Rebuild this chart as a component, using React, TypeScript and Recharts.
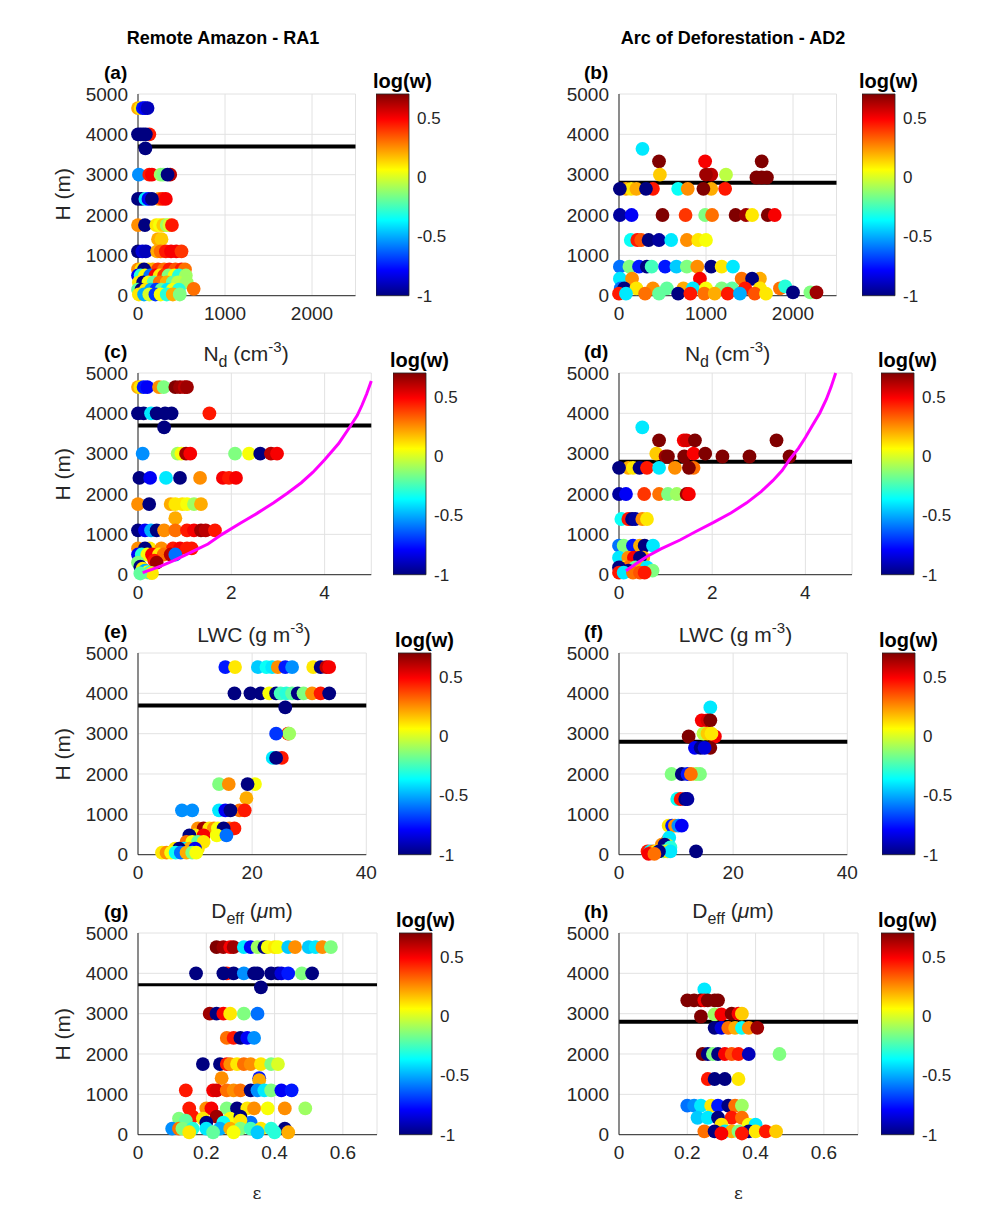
import React from "react";
import {
  ScatterChart,
  Scatter,
  BarChart,
  Bar,
  XAxis,
  YAxis,
  CartesianGrid,
  ReferenceLine,
  Cell,
} from "recharts";

// [x, H (m), log(w)]
type Pt = [number, number, number];

const hTicks = [0, 1000, 2000, 3000, 4000, 5000];
const ndTicks = [0, 1000, 2000];
const lwcTicks = [0, 2, 4];
const deffTicks = [0, 20, 40];
const epsTicks = [0, 0.2, 0.4, 0.6];
const cbTicks = [-1, -0.5, 0, 0.5];

const cloudTopRA1 = 3700;
const cloudTopAD2 = 2800;

// adiabatic LWC profiles [LWC, H]
const lwcAdRA1: [number, number][] = [
  [0.1, 50], [0.3, 130], [0.5, 220], [0.75, 340], [1.0, 480], [1.25, 620], [1.5, 760], [1.8, 1000],
  [2.2, 1280], [2.55, 1520], [2.9, 1780], [3.2, 2020], [3.5, 2280], [3.75, 2540], [4.0, 2850],
  [4.3, 3250], [4.55, 3680], [4.7, 3950], [4.8, 4200], [4.9, 4480], [5.0, 4800],
];
const lwcAdAD2: [number, number][] = [
  [0.15, 100], [0.35, 260], [0.6, 450], [0.9, 640], [1.31, 860], [1.65, 1070], [2.02, 1290],
  [2.4, 1530], [2.74, 1780], [3.05, 2060], [3.3, 2330], [3.5, 2580], [3.66, 2850], [3.85, 3130],
  [4.0, 3400], [4.15, 3700], [4.31, 4010], [4.45, 4350], [4.55, 4650], [4.65, 5000],
];

const ndRA1: Pt[] = [
  [0, 4650, 0.2], [30, 4650, 0.1], [55, 4650, -0.75], [80, 4650, -0.8], [110, 4650, -0.9],
  [130, 4000, 0.45], [0, 4000, -1], [30, 4000, -1], [60, 4000, -1], [90, 4000, -1],
  [85, 3650, -1],
  [10, 3000, -0.55], [130, 3000, 0.45], [160, 3000, 0.5], [260, 3000, -0.1], [290, 3000, -0.15], [370, 3000, 0.6], [340, 3000, -1],
  [0, 2400, -1], [40, 2400, -1], [85, 2400, -0.4], [120, 2400, -0.8], [240, 2400, 0.25], [280, 2400, 0.45], [320, 2400, 0.5], [160, 2400, -1],
  [0, 1750, 0.25], [80, 1750, -1], [210, 1750, 0.1], [250, 1750, 0.05], [290, 1750, 0.15], [330, 1750, -0.1], [360, 1750, 0.0], [390, 1750, 0.45],
  [230, 1400, 0.2], [270, 1400, 0.15],
  [0, 1100, -1], [50, 1100, -0.85], [90, 1100, -0.9], [220, 1100, 0.2], [260, 1100, 0.3], [320, 1100, 0.45], [380, 1100, 0.5], [440, 1100, 0.5], [500, 1100, 0.4],
  [0, 650, 0.25], [40, 650, 0.1], [120, 650, 0.1], [170, 650, 0.2], [230, 650, 0.4], [300, 650, 0.3], [360, 650, 0.45], [430, 650, 0.35], [500, 650, 0.45], [540, 650, 0.3], [70, 650, -1],
  [0, 500, -0.8], [30, 500, -0.3], [80, 500, 0.05], [140, 500, -0.6], [200, 500, 0.5], [250, 500, 0.1], [300, 500, 0.4], [350, 500, -0.15], [420, 500, 0.05], [470, 500, -0.3], [550, 500, -0.1],
  [10, 330, 0.1], [60, 330, -1], [120, 330, 0.05], [180, 330, -0.2], [250, 330, 0.3], [330, 330, 0.2], [400, 330, -0.2], [460, 330, -0.05], [560, 330, -0.1],
  [0, 150, -0.2], [40, 150, -1], [90, 150, 0.1], [150, 150, -0.5], [210, 150, -0.7], [270, 150, -0.2], [340, 150, -0.4], [400, 150, 0.05], [470, 150, -0.3], [640, 170, 0.3],
  [10, 30, 0.1], [70, 30, -0.5], [130, 30, 0.0], [200, 30, -0.7], [260, 30, 0.05], [330, 30, -0.3], [400, 30, 0.2], [480, 30, -0.15],
];

const ndAD2: Pt[] = [
  [270, 3640, -0.4],
  [460, 3330, 0.7], [990, 3330, 0.5], [1640, 3330, 0.7],
  [470, 3000, 0.15], [1060, 3000, 0.6], [1000, 3000, 0.65], [1230, 3000, -0.05], [1580, 2930, 0.7], [1640, 2930, 0.7], [1700, 2930, 0.7],
  [80, 2650, 0.2], [140, 2650, 0.1], [200, 2650, 0.2], [10, 2650, -1], [390, 2650, 0.45], [310, 2650, -1], [680, 2650, -0.35], [790, 2650, 0.25], [1060, 2650, 0.2], [970, 2650, 0.7], [1220, 2650, 0.45],
  [10, 2000, -0.95], [145, 2000, -0.8], [500, 2000, 0.7], [765, 2000, 0.4], [990, 2000, -0.15], [1070, 2000, 0.3], [1340, 2000, 0.7], [1460, 2000, 0.65], [1530, 2000, 0.1], [1710, 2000, 0.7], [1790, 2000, 0.5],
  [135, 1380, -0.35], [210, 1380, 0.45], [255, 1380, 0.35], [340, 1380, -1], [460, 1380, -0.95], [600, 1380, -0.4], [780, 1380, 0.25], [910, 1380, 0.1], [1000, 1380, 0.05],
  [10, 720, -0.6], [120, 720, -0.15], [230, 720, -0.75], [320, 720, -1], [375, 720, -0.25], [530, 720, -0.75], [660, 720, -0.45], [780, 720, -0.15], [900, 720, 0.25], [1060, 720, -1], [1180, 720, 0.1], [1310, 720, -0.4],
  [10, 420, -0.4], [150, 420, 0.25], [930, 420, 0.5], [1410, 420, 0.3], [1620, 420, 0.2], [1530, 420, -1],
  [20, 180, -0.6], [60, 180, -1], [200, 180, 0.1], [390, 180, 0.25], [550, 180, -0.2], [740, 180, 0.2], [850, 180, -0.4], [1000, 180, 0.05], [1180, 180, -0.15], [1300, 180, -0.2], [1450, 180, 0.45], [1620, 180, 0.1], [1850, 180, 0.3], [1910, 230, -0.3],
  [0, 50, 0.45], [80, 50, -0.4], [300, 50, 0.3], [460, 50, -0.2], [680, 50, -1], [820, 50, 0.45], [980, 50, 0.3], [1100, 50, 0.2], [1250, 50, 0.45], [1390, 50, -0.5], [1560, 50, 0.35], [1690, 50, 0.1],
  [2000, 80, -1], [2200, 80, -0.15], [2270, 80, 0.65],
];

const lwcRA1: Pt[] = [
  [0.0, 4650, 0.2], [0.05, 4650, 0.1], [0.12, 4650, -0.75], [0.2, 4650, -0.8], [0.45, 4650, 0.25], [0.55, 4650, -0.15], [0.8, 4650, 0.7], [0.9, 4650, 0.65], [1.0, 4650, 0.6], [1.05, 4650, 0.65],
  [0, 4000, -1], [0.12, 4000, -1], [0.28, 4000, -0.4], [0.4, 4000, -1], [0.58, 4000, -1], [0.72, 4000, -1], [1.53, 4000, 0.45],
  [0.56, 3650, -1],
  [0.1, 3000, -0.55], [0.85, 3000, -0.1], [0.93, 3000, 0.05], [1.03, 3000, 0.65], [1.12, 3000, 0.5], [2.08, 3000, -0.15], [2.38, 3000, 0.05], [2.62, 3000, -1], [2.85, 3000, 0.6], [2.98, 3000, 0.5],
  [0.03, 2400, -1], [0.26, 2400, -0.8], [0.6, 2400, -0.4], [0.9, 2400, -1], [1.33, 2400, 0.25], [1.82, 2400, 0.5], [1.95, 2400, 0.45], [2.1, 2400, 0.5],
  [0.0, 1750, 0.25], [0.24, 1750, -1], [0.7, 1750, 0.2], [0.8, 1750, 0.1], [0.95, 1750, 0.1], [1.05, 1750, 0.05], [1.2, 1750, -0.1], [1.35, 1750, 0.2],
  [0.8, 1400, 0.2],
  [0, 1100, -1], [0.15, 1100, -0.8], [0.28, 1100, -0.5], [0.4, 1100, -1], [0.56, 1100, 0.25], [0.8, 1100, 0.3], [1.05, 1100, 0.45], [1.2, 1100, 0.5], [1.35, 1100, 0.65], [1.45, 1100, 0.6], [1.65, 1100, 0.45],
  [0, 650, 0.25], [0.25, 650, 0.1], [0.5, 650, 0.25], [0.75, 650, 0.45], [0.9, 650, 0.5], [1.05, 650, 0.45], [1.15, 650, 0.45], [0.15, 650, -1],
  [0, 500, -0.8], [0.08, 500, -0.3], [0.2, 500, 0.05], [0.3, 500, 0.5], [0.45, 500, 0.1], [0.55, 500, 0.3], [0.7, 500, 0.6], [0.8, 500, -0.6],
  [0, 300, -0.15], [0.35, 350, 0.45], [0.4, 300, 0.65], [0.05, 200, -1], [0.1, 150, 0.1], [0.15, 100, -0.5], [0.2, 60, 0.05], [0.25, 50, -0.3], [0.3, 40, 0.1], [0.05, 30, -0.2],
];

const lwcAD2: Pt[] = [
  [0.5, 3650, -0.4],
  [0.86, 3330, 0.7], [1.39, 3330, 0.5], [1.45, 3330, 0.55], [1.63, 3330, 0.7], [3.38, 3330, 0.7],
  [0.8, 3000, 0.15], [1.0, 2930, 0.65], [1.05, 2930, 0.7], [1.4, 2930, 0.7], [1.6, 3000, 0.5], [1.85, 3000, 0.7], [2.22, 2930, 0.7], [2.8, 2930, 0.7], [3.66, 2930, 0.7],
  [0.2, 2650, 0.2], [0.3, 2650, 0.1], [0.0, 2650, -1], [0.44, 2650, -1], [0.6, 2650, 0.45], [0.86, 2650, -0.4], [1.2, 2650, 0.25], [1.6, 2650, 0.3], [1.5, 2650, 0.7],
  [0.0, 2000, -0.95], [0.15, 2000, -0.8], [0.54, 2000, 0.4], [0.86, 2000, 0.3], [1.05, 2000, -0.15], [1.24, 2000, -0.1], [1.45, 2000, 0.65], [1.5, 2000, 0.5],
  [0.05, 1380, -0.35], [0.2, 1380, 0.45], [0.28, 1380, -1], [0.35, 1380, -0.95], [0.5, 1380, 0.25], [0.6, 1380, 0.1],
  [0.0, 720, -0.6], [0.1, 720, -0.15], [0.3, 720, -0.75], [0.45, 720, 0.2], [0.55, 720, -1], [0.73, 720, -0.4],
  [0.0, 420, -0.4], [0.2, 420, 0.25], [0.32, 420, 0.5], [0.52, 420, 0.2], [0.45, 420, -1],
  [0.05, 180, -0.6], [0.1, 180, 0.1], [0.2, 180, 0.3], [0.35, 180, -0.2], [0.5, 180, 0.2], [0.6, 180, -0.4], [0.72, 100, -0.15], [0.0, 180, -1], [0.2, 100, -1],
  [0.0, 50, 0.45], [0.1, 50, -0.4], [0.3, 50, 0.3], [0.45, 50, 0.35], [0.55, 50, 0.45],
];

const deffRA1: Pt[] = [
  [15.3, 4650, -0.75], [17.0, 4650, 0.1], [21.0, 4650, -0.45], [22.5, 4650, -0.35], [23.5, 4650, -0.4], [24.5, 4650, 0.25], [25.8, 4650, -0.75], [27.0, 4650, -0.55], [30.7, 4650, 0.1], [32.0, 4650, -1], [33.0, 4650, 0.6], [33.5, 4650, 0.5],
  [16.9, 4000, -1], [19.7, 4000, -1], [21.5, 4000, -1], [23.0, 4000, 0.05], [24.2, 4000, -1], [25.0, 4000, -0.25], [26.0, 4000, -0.3], [27.0, 4000, -0.2], [28.0, 4000, -1], [29.0, 4000, -0.15], [30.5, 4000, 0.25], [32.0, 4000, 0.45], [33.5, 4000, -1],
  [25.8, 3650, -1],
  [26.3, 3000, 0.45], [26.5, 3000, -0.1], [24.2, 3000, -0.7],
  [23.6, 2400, -0.4], [25.2, 2400, 0.45], [24.2, 2400, -1],
  [14.2, 1750, -0.15], [15.9, 1750, 0.25], [20.5, 1750, 0.05], [19.2, 1750, -1],
  [19.0, 1400, 0.2],
  [7.7, 1100, -0.55], [9.5, 1100, -0.55], [14.2, 1100, -0.4], [17.8, 1100, 0.3], [18.7, 1100, 0.45], [15.3, 1100, -0.8], [16.2, 1100, -1],
  [10.5, 650, 0.25], [11.5, 650, 0.65], [12.5, 650, 0.1], [13.3, 650, 0.25], [14.0, 650, 0.05], [16.0, 650, 0.3], [16.9, 650, 0.45], [15.0, 650, -1],
  [10.0, 480, 0.1], [11.5, 480, 0.5], [13.8, 480, 0.05], [15.5, 480, -0.6], [9.0, 480, -1],
  [8.5, 320, 0.3], [9.5, 320, 0.05], [10.5, 320, -0.2], [11.5, 320, 0.1],
  [6.5, 150, 0.1], [8.0, 150, -0.4], [9.0, 150, 0.2], [10.5, 150, 0.1], [7.2, 150, -1], [10.0, 150, -0.8],
  [4.2, 50, 0.1], [5.0, 50, 0.25], [5.8, 50, 0.05], [6.6, 50, -0.35], [7.5, 50, -0.6], [8.5, 50, 0.2], [9.5, 50, -0.15], [10.2, 50, 0.05],
];

const deffAD2: Pt[] = [
  [16.0, 3650, -0.4],
  [14.5, 3330, 0.5], [15.5, 3330, 0.55], [16.0, 3330, 0.7],
  [12.2, 2930, 0.7], [14.8, 3000, -0.05], [16.8, 2930, 0.5], [15.5, 3000, 0.15], [16.2, 3000, 0.1],
  [16.0, 2650, 0.7], [13.3, 2650, -0.8], [14.3, 2650, -1], [15.0, 2650, -0.85],
  [9.2, 2000, -0.15], [13.5, 2000, -0.1], [14.2, 2000, -0.15], [11.0, 2000, -1], [12.0, 2000, -0.75], [12.6, 2000, 0.3],
  [10.2, 1380, -0.35], [10.8, 1380, 0.45], [11.6, 1380, -1], [12.0, 1380, -0.95],
  [8.7, 720, 0.1], [9.3, 720, -0.75], [9.8, 720, 0.25], [10.4, 720, -0.55], [11.0, 720, -0.8],
  [8.5, 350, 0.3], [8.8, 420, -0.4],
  [7.5, 250, 0.25], [8.5, 230, 0.1], [8.0, 250, -1], [9.0, 180, -0.3],
  [5.0, 80, 0.45], [5.5, 80, -0.4], [6.0, 80, 0.3], [6.5, 80, 0.1], [7.8, 80, -0.15], [8.5, 80, 0.1], [9.0, 80, -0.4], [7.0, 80, -1], [13.5, 80, -1],
  [5.2, 20, 0.5], [6.2, 20, 0.3],
];

const epsRA1: Pt[] = [
  [0.23, 4650, 0.7], [0.25, 4650, 0.65], [0.27, 4650, 0.5], [0.28, 4650, 0.65], [0.31, 4650, -0.4], [0.33, 4650, -0.8], [0.35, 4650, -0.1], [0.37, 4650, -1], [0.38, 4650, 0.05], [0.4, 4650, 0.1], [0.41, 4650, 0.05], [0.44, 4650, -0.45], [0.46, 4650, 0.25], [0.5, 4650, -0.45], [0.52, 4650, -0.4], [0.54, 4650, 0.25], [0.565, 4650, -0.15],
  [0.17, 4000, -1], [0.26, 4000, 0.45], [0.25, 4000, -1], [0.28, 4000, -1], [0.31, 4000, -0.55], [0.34, 4000, -1], [0.35, 4000, -1], [0.39, 4000, -1], [0.41, 4000, -1], [0.42, 4000, -0.85], [0.44, 4000, -0.75], [0.48, 4000, -0.15], [0.51, 4000, -1],
  [0.36, 3650, -1],
  [0.21, 3000, 0.65], [0.23, 3000, -1], [0.25, 3000, 0.5], [0.27, 3000, 0.1], [0.31, 3000, -0.15], [0.35, 3000, -0.6],
  [0.26, 2400, 0.3], [0.28, 2400, 0.45], [0.3, 2400, -1], [0.32, 2400, -0.8], [0.34, 2400, -0.55],
  [0.19, 1750, -1], [0.24, 1750, -1], [0.26, 1750, 0.45], [0.27, 1750, 0.25], [0.29, 1750, 0.1], [0.31, 1750, 0.3], [0.33, 1750, 0.25], [0.36, 1750, 0.1], [0.39, 1750, -0.15], [0.41, 1750, 0.0],
  [0.245, 1400, 0.25], [0.355, 1400, -0.75], [0.355, 1350, 0.2],
  [0.14, 1100, 0.45], [0.22, 1100, 0.5], [0.23, 1100, 0.55], [0.26, 1100, 0.3], [0.28, 1100, 0.25], [0.3, 1100, 0.3], [0.33, 1100, -1], [0.35, 1100, -0.55], [0.37, 1100, -0.4], [0.39, 1100, -0.15], [0.42, 1100, -0.8], [0.45, 1100, -0.75],
  [0.15, 650, 0.45], [0.2, 650, 0.25], [0.215, 650, 0.5], [0.26, 650, -0.15], [0.29, 650, -1], [0.32, 650, 0.1], [0.34, 650, 0.25], [0.38, 650, 0.05], [0.43, 650, 0.25], [0.49, 650, -0.1],
  [0.12, 400, -0.15], [0.16, 450, 0.45], [0.19, 400, 0.1], [0.23, 450, 0.65], [0.27, 400, 0.05], [0.3, 450, -1], [0.33, 300, -0.6], [0.14, 350, -0.2], [0.25, 300, -0.35], [0.2, 300, -1], [0.3, 350, 0.1],
  [0.1, 150, -0.55], [0.12, 150, 0.3], [0.13, 150, -0.15], [0.16, 150, -0.3], [0.2, 150, -0.4], [0.24, 150, -0.5], [0.27, 150, 0.2], [0.3, 150, -0.15], [0.33, 150, -0.25], [0.36, 150, 0.1], [0.39, 150, -0.3], [0.43, 150, -1],
  [0.15, 60, 0.1], [0.22, 60, -0.2], [0.28, 60, 0.05], [0.35, 60, -0.45], [0.4, 60, -0.3], [0.44, 60, 0.2],
];

const epsAD2: Pt[] = [
  [0.25, 3600, -0.4],
  [0.2, 3330, 0.7], [0.22, 3330, 0.7], [0.24, 3330, 0.7], [0.25, 3330, 0.5], [0.26, 3330, 0.7], [0.28, 3330, 0.7], [0.29, 3330, 0.7],
  [0.24, 2930, 0.7], [0.28, 2980, -0.1], [0.3, 2980, 0.5], [0.33, 3000, 0.7], [0.35, 3000, 0.5], [0.36, 3000, 0.15],
  [0.28, 2650, -1], [0.3, 2650, -0.85], [0.32, 2650, 0.3], [0.34, 2650, 0.2], [0.36, 2650, -0.35], [0.38, 2650, 0.25], [0.405, 2650, 0.65],
  [0.245, 2000, 0.7], [0.26, 2000, -1], [0.275, 2000, -0.15], [0.29, 2000, -1], [0.31, 2000, 0.5], [0.33, 2000, 0.35], [0.35, 2000, 0.45], [0.38, 2000, -0.9], [0.47, 2000, -0.15],
  [0.26, 1380, 0.45], [0.28, 1380, -1], [0.31, 1380, -1], [0.35, 1380, 0.1],
  [0.2, 720, -0.6], [0.22, 720, -0.55], [0.24, 720, -0.4], [0.27, 720, 0.1], [0.29, 720, -0.75], [0.32, 720, -1], [0.34, 720, 0.3], [0.36, 720, -0.1],
  [0.23, 420, -0.45], [0.26, 420, -0.4], [0.29, 420, -1], [0.33, 420, 0.45], [0.36, 420, 0.3],
  [0.3, 250, 0.1], [0.38, 250, 0.05], [0.4, 250, -0.4],
  [0.25, 80, 0.3], [0.28, 80, -1], [0.31, 80, -0.4], [0.33, 80, 0.2], [0.35, 80, -0.15], [0.38, 80, -1], [0.4, 80, 0.1], [0.43, 80, 0.45], [0.46, 80, 0.15],
  [0.3, 30, 0.5], [0.36, 30, 0.45],
];

// colour bar spans log(w) from -1 to 0.7
const cbRange = [{ k: "w", r: [-1, 0.7] }];

const FONT = "'Liberation Sans', Arial, Helvetica, sans-serif";
const AX = "#262626";
const PH = 201.7;
const ML = 62, MT = 12, MR = 14, MB = 34;

function jet(v: number) {
  const t = Math.min(1, Math.max(0, (v + 1) / 1.7));
  const c = (x: number) => Math.round(255 * Math.min(1, Math.max(0, x)));
  const r = c(1.5 - Math.abs(4 * t - 3));
  const g = c(1.5 - Math.abs(4 * t - 2));
  const b = c(1.5 - Math.abs(4 * t - 1));
  return `rgb(${r},${g},${b})`;
}

const toObj = (a: Pt[]) => a.map(([x, y, w]) => ({ x, y, w }));

const Dot = (p: any) => <circle cx={p.cx} cy={p.cy} r={6.9} fill={p.fill} />;
const NoDot = () => <g />;

type PanelProps = {
  left: number;
  top: number;
  w: number;
  pts: Pt[];
  xDomain: [number, number];
  xTicks: number[];
  topY: number;
  lineW?: number;
  curve?: [number, number][];
};

function Panel({ left, top, w, pts, xDomain, xTicks, topY, lineW = 4, curve }: PanelProps) {
  const data = toObj(pts);
  return (
    <div style={{ position: "absolute", left: left - ML, top: top - MT }}>
      <ScatterChart width={ML + w + MR} height={MT + PH + MB} margin={{ top: MT, right: MR, left: 0, bottom: 0 }}>
        <CartesianGrid stroke="#e2e2e2" />
        <XAxis
          type="number"
          dataKey="x"
          domain={xDomain}
          ticks={xTicks}
          interval={0}
          height={MB}
          tickSize={0}
          tickMargin={11}
          axisLine={{ stroke: AX }}
          tick={{ fill: AX, fontSize: 19 }}
        />
        <YAxis
          type="number"
          dataKey="y"
          domain={[0, 5000]}
          ticks={hTicks}
          interval={0}
          width={ML}
          tickSize={0}
          tickMargin={10}
          axisLine={{ stroke: AX }}
          tick={{ fill: AX, fontSize: 19 }}
        />
        <ReferenceLine y={topY} stroke="#000" strokeWidth={lineW} />
        <Scatter data={data} shape={Dot} isAnimationActive={false}>
          {data.map((d, i) => (
            <Cell key={i} fill={jet(d.w)} />
          ))}
        </Scatter>
        {curve && (
          <Scatter
            data={curve.map(([x, y]) => ({ x, y }))}
            line={{ stroke: "#ff00ff", strokeWidth: 3 }}
            shape={NoDot}
            isAnimationActive={false}
          />
        )}
      </ScatterChart>
    </div>
  );
}

function ColorBar({ left, top, id }: { left: number; top: number; id: string }) {
  const W = 33, AW = 50;
  return (
    <div style={{ position: "absolute", left, top: top - MT }}>
      <BarChart
        width={W + AW}
        height={MT + PH + MB}
        margin={{ top: MT, right: 0, left: 0, bottom: MB }}
        data={cbRange}
        barCategoryGap={0}
        barGap={0}
      >
        <defs>
          <linearGradient id={id} x1="0" y1="1" x2="0" y2="0">
            <stop offset="0" stopColor="#000080" />
            <stop offset="0.125" stopColor="#0000ff" />
            <stop offset="0.375" stopColor="#00ffff" />
            <stop offset="0.625" stopColor="#ffff00" />
            <stop offset="0.875" stopColor="#ff0000" />
            <stop offset="1" stopColor="#800000" />
          </linearGradient>
        </defs>
        <XAxis dataKey="k" hide />
        <YAxis
          type="number"
          orientation="right"
          domain={[-1, 0.7]}
          ticks={cbTicks}
          interval={0}
          width={AW}
          axisLine={false}
          tickSize={0}
          tickMargin={8}
          tick={{ fill: AX, fontSize: 17 }}
        />
        <Bar dataKey="r" fill={`url(#${id})`} stroke={AX} strokeWidth={0.8} isAnimationActive={false} />
      </BarChart>
    </div>
  );
}

const rowTop = [93.5, 373.3, 653.3, 933.3];
const LX = 137.7, RX = 619;

export default function App() {
  const cbs = [
    { l: 376, t: rowTop[0] }, { l: 862, t: rowTop[0] },
    { l: 393, t: rowTop[1] }, { l: 881, t: rowTop[1] },
    { l: 398, t: rowTop[2] }, { l: 882, t: rowTop[2] },
    { l: 399, t: rowTop[3] }, { l: 881, t: rowTop[3] },
  ];
  const letters = ["(a)", "(b)", "(c)", "(d)", "(e)", "(f)", "(g)", "(h)"];
  return (
    <div style={{ position: "absolute", left: 0, top: 0, width: 997, height: 1214, background: "#fff", fontFamily: FONT }}>
      <Panel left={LX} top={rowTop[0]} w={217.5} pts={ndRA1} xDomain={[0, 2500]} xTicks={ndTicks} topY={cloudTopRA1} />
      <Panel left={RX} top={rowTop[0]} w={217.5} pts={ndAD2} xDomain={[0, 2500]} xTicks={ndTicks} topY={cloudTopAD2} />
      <Panel left={LX} top={rowTop[1]} w={233.3} pts={lwcRA1} xDomain={[0, 5]} xTicks={lwcTicks} topY={cloudTopRA1} curve={lwcAdRA1} />
      <Panel left={RX} top={rowTop[1]} w={233} pts={lwcAD2} xDomain={[0, 5]} xTicks={lwcTicks} topY={cloudTopAD2} curve={lwcAdAD2} />
      <Panel left={LX} top={rowTop[2]} w={228.3} pts={deffRA1} xDomain={[0, 40]} xTicks={deffTicks} topY={cloudTopRA1} />
      <Panel left={RX} top={rowTop[2]} w={228.3} pts={deffAD2} xDomain={[0, 40]} xTicks={deffTicks} topY={cloudTopAD2} />
      <Panel left={LX} top={rowTop[3]} w={239} pts={epsRA1} xDomain={[0, 0.7]} xTicks={epsTicks} topY={cloudTopRA1 + 20} lineW={3} />
      <Panel left={RX} top={rowTop[3]} w={239} pts={epsAD2} xDomain={[0, 0.7]} xTicks={epsTicks} topY={cloudTopAD2} />
      {cbs.map((c, i) => (
        <ColorBar key={i} left={c.l} top={c.t} id={`jet${i}`} />
      ))}
      <svg
        width={997}
        height={1214}
        style={{ position: "absolute", left: 0, top: 0, pointerEvents: "none", fontFamily: FONT }}
      >
        <text x={223} y={44} textAnchor="middle" fontWeight="bold" fontSize={18} fill="#000">
          Remote Amazon - RA1
        </text>
        <text x={733} y={44} textAnchor="middle" fontWeight="bold" fontSize={18} fill="#000">
          Arc of Deforestation - AD2
        </text>
        {letters.map((s, i) => (
          <text
            key={s}
            x={i % 2 === 0 ? 104 : 584}
            y={rowTop[Math.floor(i / 2)] - 15}
            fontWeight="bold"
            fontSize={19}
            fill="#000"
          >
            {s}
          </text>
        ))}
        {cbs.map((c, i) => (
          <text key={i} x={c.l - 3} y={c.t - 6} fontWeight="bold" fontSize={20} fill="#000">
            log(w)
          </text>
        ))}
        {rowTop.map((t, i) => (
          <text
            key={i}
            x={70}
            y={t + PH / 2}
            fontSize={21}
            fill={AX}
            textAnchor="middle"
            transform={`rotate(-90 70 ${t + PH / 2})`}
          >
            H (m)
          </text>
        ))}
        {[246, 727.5].map((cx, i) => (
          <text key={`nd${i}`} x={cx} y={361} fontSize={21} fill={AX} textAnchor="middle">
            <tspan>N</tspan>
            <tspan dy={6} fontSize={16}>d</tspan>
            <tspan dy={-6}> (cm</tspan>
            <tspan dy={-9} fontSize={15}>-3</tspan>
            <tspan dy={9}>)</tspan>
          </text>
        ))}
        {[254, 735.5].map((cx, i) => (
          <text key={`lwc${i}`} x={cx} y={642} fontSize={21} fill={AX} textAnchor="middle">
            <tspan>LWC (g m</tspan>
            <tspan dy={-9} fontSize={15}>-3</tspan>
            <tspan dy={9}>)</tspan>
          </text>
        ))}
        {[252, 733].map((cx, i) => (
          <text key={`deff${i}`} x={cx} y={918} fontSize={21} fill={AX} textAnchor="middle">
            <tspan>D</tspan>
            <tspan dy={6} fontSize={16}>eff</tspan>
            <tspan dy={-6}> (</tspan>
            <tspan fontStyle="italic">μ</tspan>
            <tspan>m)</tspan>
          </text>
        ))}
        {[257, 738.5].map((cx, i) => (
          <text
            key={`eps${i}`}
            x={cx}
            y={1199}
            fontSize={17}
            fill={AX}
            textAnchor="middle"
            fontFamily="'DejaVu Serif', 'Liberation Serif', serif"
          >
            ε
          </text>
        ))}
      </svg>
    </div>
  );
}
